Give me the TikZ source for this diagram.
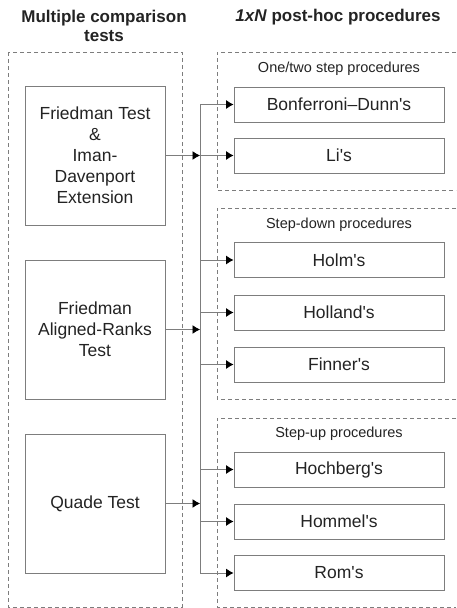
\documentclass[tikz,border=0pt]{standalone}
\usepackage{fontspec}
\setmainfont{Liberation Sans}
\usepackage{tikz}
\usetikzlibrary{arrows.meta}
\definecolor{linegray}{RGB}{125,125,125}
\definecolor{inkgray}{RGB}{35,35,35}
\tikzset{
  testbox/.style={draw=linegray, line width=0.9pt, minimum width=140pt, minimum height=139pt, align=center, text=inkgray, font=\fontsize{17.5}{21}\selectfont},
  procbox/.style={draw=linegray, line width=0.9pt, minimum width=210pt, minimum height=35pt, text=inkgray, font=\fontsize{17.5}{21}\selectfont},
  grouplabel/.style={text=inkgray, font=\fontsize{14.5}{17}\selectfont},
  headline/.style={text=inkgray, align=center, font=\fontsize{17}{19}\selectfont\bfseries},
  frame/.style={draw=linegray, line width=0.8pt, dash pattern=on 4pt off 3pt},
  arr/.style={draw=linegray, line width=0.9pt, -{Latex[length=7.5pt,width=9pt,color=black]}}
}
\newcommand{\procnode}[3]{\node[procbox] (#1) at ( 339 , #2 ) {#3};}
\newcommand{\apos}{\textquotesingle}

\begin{document}
\begin{tikzpicture}[x=1pt,y=-1pt]
        \useasboundingbox (0,0) rectangle (456,608);

        % headings
        \node[headline] (lefthead) at (104,26) {Multiple comparison\\tests};
        \node[headline] (righthead) at (338,17) {\textit{1xN} post-hoc procedures};

        % dashed frames
        \draw[frame] (8,52) rectangle (182,607);
        \draw[frame] (456,52) -- (217,52) -- (217,190) -- (456,190);
        \draw[frame] (456,208) -- (217,208) -- (217,399) -- (456,399);
        \draw[frame] (456,418) -- (217,418) -- (217,607) -- (456,607);

        % group labels
        \node[grouplabel] (onetwo) at (339,69) {One/two step procedures};
        \node[grouplabel] (stepdown) at (339,225) {Step-down procedures};
        \node[grouplabel] (stepup) at (339,434) {Step-up procedures};

        % tests
        \node[testbox] (friedman) at (95,155.5) {Friedman Test\\\&\\Iman-\\Davenport\\Extension};
        \node[testbox] (aligned) at (95,329.5) {Friedman\\Aligned-Ranks\\Test};
        \node[testbox] (quade) at (95,503.5) {Quade Test};

        % procedures
        \procnode{bonferroni}{104.5}{Bonferroni--Dunn\apos s}
        \procnode{li}{155.5}{Li\apos s}
        \procnode{holm}{260}{Holm\apos s}
        \procnode{holland}{312.5}{Holland\apos s}
        \procnode{finner}{364.5}{Finner\apos s}
        \procnode{hochberg}{469.5}{Hochberg\apos s}
        \procnode{hommel}{521.5}{Hommel\apos s}
        \procnode{rom}{573}{Rom\apos s}

        % bus
        \coordinate (bustop) at (200,104.5);
        \coordinate (busbot) at (200,573);
        \draw[linegray, line width=0.9pt] (bustop) -- (busbot);

        \foreach \t in {friedman,aligned,quade}
            \draw[arr] (\t.east) -- (\t.east -| bustop);
        \foreach \p in {bonferroni,li,holm,holland,finner,hochberg,hommel,rom}
            \draw[arr] (\p.west -| bustop) -- (\p.west);

    \end{tikzpicture}
\end{document}
